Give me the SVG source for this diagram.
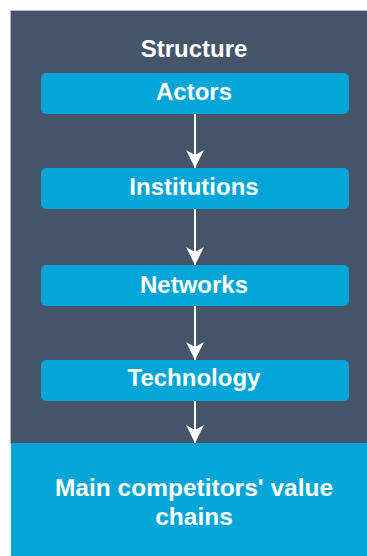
<svg xmlns="http://www.w3.org/2000/svg" width="367" height="556" viewBox="0 0 367 556">
<style>
.node rect{fill:#03A6D6;}
.t{font-family:"Liberation Sans",Arial,sans-serif;font-weight:bold;font-size:24px;fill:#ffffff;text-anchor:middle;}
.big{font-size:24.5px;}
.conn line{stroke:#ffffff;stroke-width:2;}
</style>
<defs>
<marker id="ah" markerUnits="userSpaceOnUse" markerWidth="20" markerHeight="20" viewBox="0 0 20 20" refX="19" refY="10" orient="auto">
<path d="M1,1 L19,10 L1,19 L6,10 Z" fill="#ffffff"/>
</marker>
</defs>
<rect x="0" y="0" width="367" height="556" fill="#ffffff"/>
<g id="structure">
<rect x="10.5" y="10.5" width="357" height="433" fill="#46546A" stroke="#B7BEC8" stroke-width="1"/>
<text class="t" x="194" y="57">Structure</text>
</g>
<g id="actors" class="node">
<rect x="41" y="73" width="308" height="41" rx="5"/>
<text class="t" x="194" y="100">Actors</text>
</g>
<g id="institutions" class="node">
<rect x="41" y="168" width="308" height="41" rx="5"/>
<text class="t" x="194" y="195">Institutions</text>
</g>
<g id="networks" class="node">
<rect x="41" y="265" width="308" height="41" rx="5"/>
<text class="t" x="194" y="292.5">Networks</text>
</g>
<g id="technology" class="node">
<rect x="41" y="360" width="308" height="41" rx="5"/>
<text class="t" x="194" y="386">Technology</text>
</g>
<g id="value-chains" class="node">
<rect x="11" y="443" width="356" height="113"/>
<text class="t big" x="194" y="496">Main competitors' value</text>
<text class="t big" x="194" y="525">chains</text>
</g>
<g id="connectors" class="conn">
<line x1="195" y1="114" x2="195" y2="168" marker-end="url(#ah)"/>
<line x1="195" y1="209" x2="195" y2="265" marker-end="url(#ah)"/>
<line x1="195" y1="306" x2="195" y2="360" marker-end="url(#ah)"/>
<line x1="195" y1="401" x2="195" y2="443" marker-end="url(#ah)"/>
</g>
</svg>
